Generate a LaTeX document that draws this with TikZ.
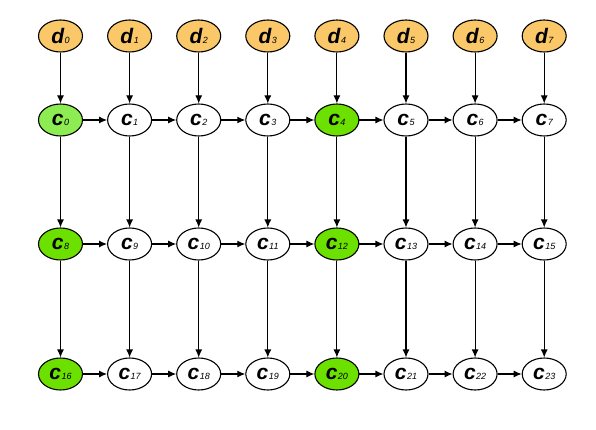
\documentclass[tikz,border=0pt]{standalone}
\usepackage{fontspec}
\setmainfont{Liberation Sans}
\usetikzlibrary{arrows.meta,shapes.geometric}
\definecolor{dorange}{RGB}{250,200,105}
\definecolor{cgreen}{RGB}{108,225,0}
\definecolor{clight}{RGB}{140,236,82}
\tikzset{
  nd/.style={draw=black, line width=1.1pt, ellipse, minimum width=44pt, minimum height=32pt, inner sep=0pt, fill=white},
  dnode/.style={nd, fill=dorange},
  gnode/.style={nd, fill=cgreen},
  lnode/.style={nd, fill=clight},
  arr/.style={-{Latex[length=8pt,width=7pt]}, line width=1.1pt},
}
\newcommand{\lab}[2]{\fontsize{21}{21}\selectfont\bfseries\itshape #1\kern0.5pt{\fontsize{9}{9}\selectfont\mdseries\itshape #2}}
\begin{document}
\begin{tikzpicture}[x=1pt,y=-1pt]
\useasboundingbox (0,0) rectangle (596,430);
\foreach \i in {0,...,7} {
  \pgfmathsetmacro{\xx}{60.5+69.1*\i}
  \node[dnode] (d\i) at (\xx,36) {\lab{d}{\i}};
}
\foreach \r/\yy in {0/120,1/244,2/374} {
  \foreach \i in {0,...,7} {
    \pgfmathtruncatemacro{\k}{8*\r+\i}
    \pgfmathsetmacro{\xx}{60.5+69.1*\i}
    \ifnum\i=0
      \ifnum\r=0
        \node[lnode] (c\k) at (\xx,\yy) {\lab{c}{\k}};
      \else
        \node[gnode] (c\k) at (\xx,\yy) {\lab{c}{\k}};
      \fi
    \else\ifnum\i=4
      \node[gnode] (c\k) at (\xx,\yy) {\lab{c}{\k}};
    \else
      \node[nd] (c\k) at (\xx,\yy) {\lab{c}{\k}};
    \fi\fi
  }
}
\foreach \i in {0,...,7} {
  \pgfmathtruncatemacro{\a}{\i+8}
  \pgfmathtruncatemacro{\b}{\i+16}
  \draw[arr] (d\i) -- (c\i);
  \draw[arr] (c\i) -- (c\a);
  \draw[arr] (c\a) -- (c\b);
}
\foreach \r in {0,1,2} {
  \foreach \i in {0,...,6} {
    \pgfmathtruncatemacro{\k}{8*\r+\i}
    \pgfmathtruncatemacro{\n}{8*\r+\i+1}
    \draw[arr] (c\k) -- (c\n);
  }
}
\end{tikzpicture}
\end{document}
